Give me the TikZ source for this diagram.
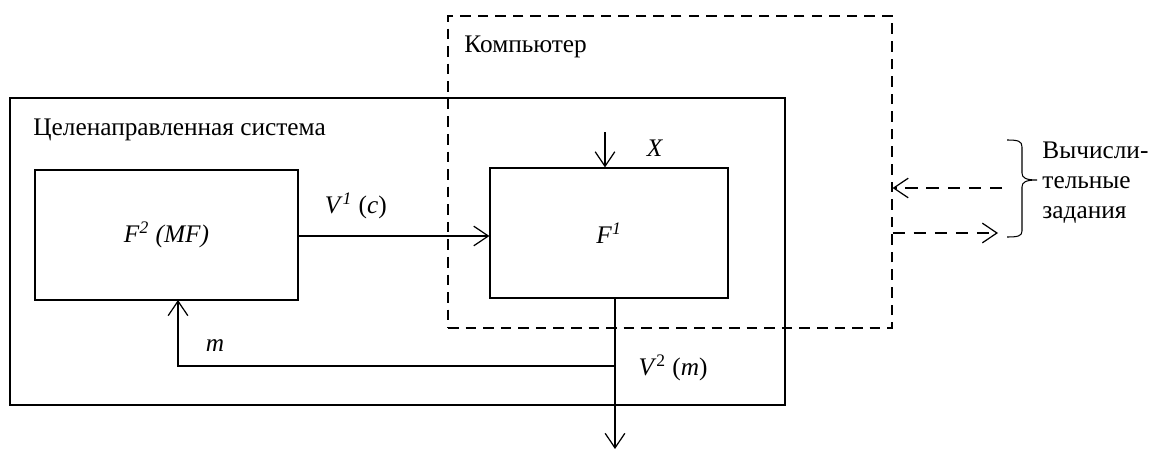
\documentclass[tikz,border=0pt]{standalone}
\usepackage{fontspec}
\setmainfont{Liberation Serif}
\usetikzlibrary{arrows.meta}

\begin{document}
\begin{tikzpicture}[x=0.02cm, y=-0.02cm, line width=0.7pt,
      font=\fontsize{14.4}{17}\selectfont,
      blk/.style={draw, rectangle, inner sep=0pt},
      cmp/.style={draw, dashed, dash pattern=on 6pt off 4pt, rectangle, inner sep=0pt},
      arr/.style={-{Straight Barb[angle=68:10pt, line width=0.7pt]}},
      darr/.style={arr, dash pattern=on 7pt off 5pt}]
    \useasboundingbox (0,0) rectangle (1166,453);
    % outer system and computer
    \node[blk, minimum width=15.5cm, minimum height=6.14cm] (sys) at (397.5,251.5) {};
    \node[cmp, minimum width=8.88cm, minimum height=6.24cm] (comp) at (670,172) {};
    \node[anchor=west] (syslbl) at (27,130) {Целенаправленная система};
    \node[anchor=west] (complbl) at (458,47) {Компьютер};
    % blocks
    \node[blk, minimum width=5.26cm, minimum height=2.6cm] (F2) at (166.5,235)
      {\textit{F}\textsuperscript{\textit{2}} \textit{(MF)}};
    \node[blk, minimum width=4.76cm, minimum height=2.6cm] (F1) at (609,233)
      {\textit{F}\textsuperscript{\textit{1}}};
    % inputs and outputs
    \coordinate (xin) at (605,132);
    \coordinate (fb) at (615,366);
    \coordinate (out) at (615,449);
    \draw[arr] (F2.east |- 0,236) -- node[above=6pt, pos=0.3]
      {\textit{V}\textsuperscript{\textit{1}} (\textit{c})} (F1.west |- 0,236);
    \draw[arr] (xin) -- (xin |- F1.north);
    \node (xlbl) at (655,148) {\textit{X}};
    \draw[arr] (F1.south -| out) -- (out);
    \draw[arr] (fb) -- (178,366) -- (178,300);
    \node (mlbl) at (215,346) {\textit{m}};
    \node (v2lbl) at (673,368) {\textit{V}\textsuperscript{2} (\textit{m})};
    % computational tasks
    \coordinate (tin) at (1002,188);
    \coordinate (tout) at (998,233);
    \draw[darr] (tin) -- (comp.east |- tin);
    \draw[darr] (comp.east |- tout) -- (tout);
    \draw[line width=0.6pt] (1007,140) .. controls (1018,140) and (1022,141) .. (1022,147)
      -- (1022,173) .. controls (1022,178) and (1026,180) .. (1037,180)
      .. controls (1026,180) and (1022,182) .. (1022,187)
      -- (1022,231) .. controls (1022,236) and (1018,237) .. (1007,237);
    \node[anchor=west, align=left] (tasks) at (1036,183)
      {Вычисли-\\тельные\\задания};
  \end{tikzpicture}
\end{document}
